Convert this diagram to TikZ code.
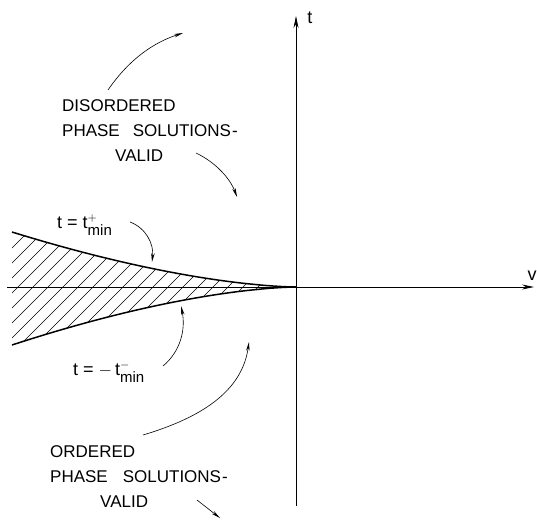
\documentclass[tikz,border=0pt]{standalone}
\usepackage{amsmath}
\usepackage{fontspec}
\setsansfont{Liberation Sans}
\usetikzlibrary{arrows.meta,positioning}

\tikzset{
  axis/.style={line width=0.9pt, -{Stealth[length=12pt,width=5pt]}},
  bound/.style={line width=1.5pt},
  hatchline/.style={line width=0.5pt},
  hint/.style={line width=0.6pt, -{Stealth[length=9pt,width=3.5pt]}},
  region/.style={font=\sffamily\fontsize{17}{25}\selectfont, align=left, inner sep=0pt},
  eqlabel/.style={font=\sffamily\fontsize{18}{20}\selectfont, inner sep=0pt}
}
\newcommand{\tmin}[1]{$^{#1}_{\text{\fontsize{15}{15}\selectfont min}}$}

\begin{document}
\begin{tikzpicture}[x=1pt, y=-1pt]
		\useasboundingbox (0,0) rectangle (537,522);

		% 原点与坐标轴
		\coordinate (O) at (296,287);
		\coordinate (vstart) at (7,287);
		\coordinate (vend) at (534,287);
		\coordinate (tstart) at (296,506);
		\coordinate (tend) at (296,16);
		\draw[axis] (vstart) -- (vend) node[eqlabel, anchor=south east, xshift=3pt, yshift=6pt] (vlab) {v};
		\draw[axis] (tstart) -- (tend) node[eqlabel, anchor=north west, xshift=11pt, yshift=5pt] (tlab) {t};

		% 阴影区域
		\begin{scope}
			\clip plot[domain=12:295.5, samples=60] ({\x}, {287-55*pow((296-\x)/284,1.6)})
				-- (O)
				-- plot[domain=295.5:12, samples=60] ({\x}, {287+58*pow((296-\x)/284,1.6)})
				-- cycle;
			\foreach \k in {-10,...,30}
				\draw[hatchline] (\k*15-115, 360) -- ++(140,-140);
		\end{scope}

		% 边界曲线
		\draw[bound] plot[domain=12:295.5, samples=60] ({\x}, {287-55*pow((296-\x)/284,1.6)}) -- (O);
		\draw[bound] plot[domain=12:295.5, samples=60] ({\x}, {287+58*pow((296-\x)/284,1.6)}) -- (O);

		% 文字
		\node[region, anchor=north west] (dis) at (62,99) {DISORDERED\\PHASE\hspace{13pt}SOLUTIONS\hspace{1pt}-\\\hspace*{53pt}VALID};
		\node[region, anchor=north west] (ord) at (50,445) {ORDERED\\PHASE\hspace{15pt}SOLUTIONS\hspace{1pt}-\\\hspace*{50pt}VALID};
		\node[eqlabel, anchor=base west] (tplus) at (57,228) {t = t\tmin{+}};
		\node[eqlabel, anchor=base west] (tminus) at (73,375) {t = $-$\,t\tmin{-}};

		% 指示箭头
		\coordinate (a1s) at (108,90);   \coordinate (a1e) at (183,33);
		\coordinate (a2s) at (196,153);  \coordinate (a2e) at (237,197);
		\coordinate (a3s) at (130,222);  \coordinate (a3e) at (152,262);
		\coordinate (a4s) at (163,366);  \coordinate (a4e) at (181,306);
		\coordinate (a5s) at (143,435);  \coordinate (a5e) at (249,342);
		\coordinate (a6s) at (197,500);  \coordinate (a6e) at (220,518);
		\draw[hint] (a1s) .. controls (130,58) and (155,42) .. (a1e);
		\draw[hint] (a2s) .. controls (215,162) and (230,178) .. (a2e);
		\draw[hint] (a3s) .. controls (146,228) and (154,244) .. (a3e);
		\draw[hint] (a4s) .. controls (180,352) and (186,330) .. (a4e);
		\draw[hint] (a5s) .. controls (200,418) and (242,392) .. (a5e);
		\draw[hint] (a6s) -- (a6e);
	\end{tikzpicture}
\end{document}
